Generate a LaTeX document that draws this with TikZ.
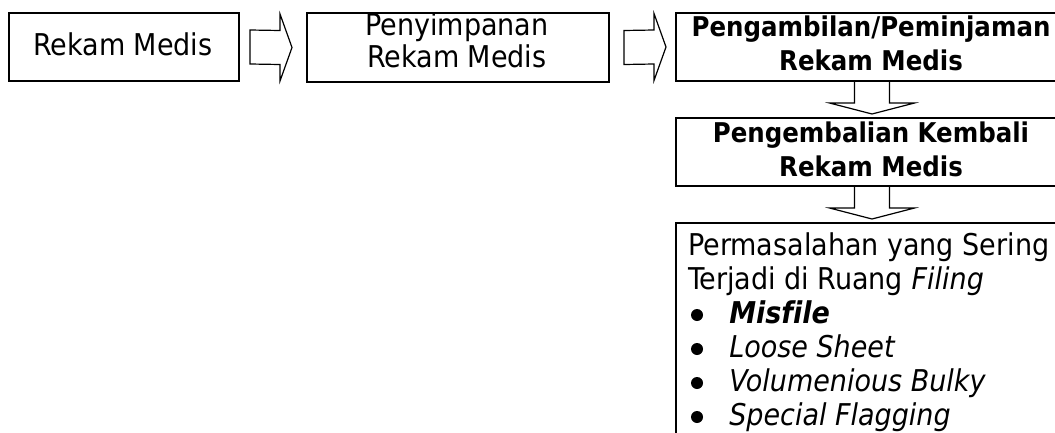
\documentclass[tikz,border=0pt]{standalone}
\usepackage{fontspec}
\setmainfont{DejaVu Sans Condensed}[
  Ligatures=CommonOff,
  BoldFont={DejaVu Sans Condensed Bold},
  ItalicFont={DejaVu Sans Condensed Oblique},
  BoldItalicFont={DejaVu Sans Condensed Bold Oblique}]
\usetikzlibrary{calc}
\begin{document}
\begin{tikzpicture}[x=0.75pt,y=-0.75pt,
  box/.style={draw, line width=1.5pt, inner sep=0pt, anchor=north west},
  blk/.style={draw, line width=0.9pt, line join=miter},
  txt/.style={anchor=base, inner sep=0pt, font=\fontsize{22.5pt}{26pt}\selectfont},
  btxt/.style={anchor=base, inner sep=0pt, font=\fontsize{20.4pt}{24pt}\selectfont\bfseries},
  ltxt/.style={anchor=base west, inner sep=0pt, font=\fontsize{22.5pt}{26pt}\selectfont},
  dot/.style={circle, fill, inner sep=0pt, minimum size=9pt}]
\useasboundingbox (0,0) rectangle (1055,432);
\clip (0,0) rectangle (1055,432);

% boxes
\node[box, minimum width=172.5pt, minimum height=51pt] (b1) at (8,12) {};
\node[box, minimum width=226.5pt, minimum height=51.75pt] (b2) at (306,12) {};
\node[box, minimum width=294pt, minimum height=51pt] (b3) at (675,12) {};
\node[box, minimum width=294pt, minimum height=51pt] (b4) at (675,117) {};
\node[box, minimum width=294pt, minimum height=195pt] (b5) at (675,222) {};

% texts
\node[txt] (t1) at (123,55) {Rekam Medis};
\node[txt] (t2a) at (457,35) {Penyimpanan};
\node[txt] (t2b) at (457,67) {Rekam Medis};
\node[btxt] (t3a) at (871,36) {Pengambilan/Peminjaman};
\node[btxt] (t3b) at (871,70) {Rekam Medis};
\node[btxt] (t4a) at (871,142) {Pengembalian Kembali};
\node[btxt] (t4b) at (871,176) {Rekam Medis};
\node[ltxt] (t5a) at (688,255) {Permasalahan yang Sering};
\node[ltxt] (t5b) at (688,289) {Terjadi di Ruang \textit{Filing}};
\node[dot] (u1) at (697,315) {};
\node[dot] (u2) at (697,349) {};
\node[dot] (u3) at (697,383) {};
\node[dot] (u4) at (697,417) {};
\node[ltxt] (i1) at (729,323) {\textbf{\textit{Misfile}}};
\node[ltxt] (i2) at (729,357) {\textit{Loose Sheet}};
\node[ltxt] (i3) at (729,391) {\textit{Volumenious Bulky}};
\node[ltxt] (i4) at (729,425) {\textit{Special Flagging}};

% right block arrows
\coordinate (r1s) at ($(b1.east)+(10,0)$);
\coordinate (r1t) at ($(b2.west)+(-14,0)$);
\draw[blk] ($(r1s)+(0,-17)$) -- ($(r1t)+(-12,-17)$) -- ($(r1t)+(-12,-33.5)$) -- (r1t)
  -- ($(r1t)+(-12,33.5)$) -- ($(r1t)+(-12,17)$) -- ($(r1s)+(0,17)$) -- cycle;
\coordinate (r2s) at ($(b2.east)+(14,0)$);
\coordinate (r2t) at ($(b3.west)+(-9,0)$);
\draw[blk] ($(r2s)+(0,-17)$) -- ($(r2t)+(-12,-17)$) -- ($(r2t)+(-12,-33.5)$) -- (r2t)
  -- ($(r2t)+(-12,33.5)$) -- ($(r2t)+(-12,17)$) -- ($(r2s)+(0,17)$) -- cycle;

% down block arrows
\coordinate (d1s) at (b3.south);
\coordinate (d1t) at ($(b4.north)+(0,-3)$);
\draw[blk] ($(d1s)+(-17.5,0)$) -- ($(d1t)+(-17.5,-11)$) -- ($(d1t)+(-42.5,-11)$) -- (d1t)
  -- ($(d1t)+(42.5,-11)$) -- ($(d1t)+(17.5,-11)$) -- ($(d1s)+(17.5,0)$);
\coordinate (d2s) at (b4.south);
\coordinate (d2t) at ($(b5.north)+(0,-3)$);
\draw[blk] ($(d2s)+(-17.5,0)$) -- ($(d2t)+(-17.5,-11)$) -- ($(d2t)+(-42.5,-11)$) -- (d2t)
  -- ($(d2t)+(42.5,-11)$) -- ($(d2t)+(17.5,-11)$) -- ($(d2s)+(17.5,0)$);
\end{tikzpicture}
\end{document}
